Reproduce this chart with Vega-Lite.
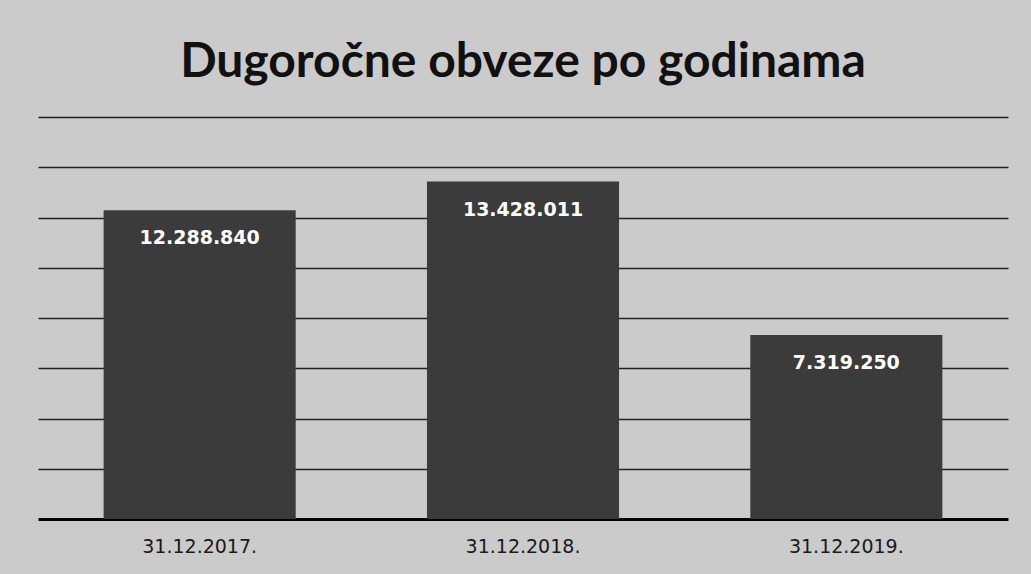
{
  "$schema": "https://vega.github.io/schema/vega-lite/v6.json",
  "width": 970,
  "height": 402,
  "autosize": {"type": "none"},
  "padding": {"left": 38, "top": 117, "right": 23, "bottom": 55},
  "background": "#cbcbcb",
  "config": {
    "view": {"stroke": null},
    "locale": {"number": {"decimal": ",", "thousands": ".", "grouping": [3], "currency": ["", " kn"]}}
  },
  "title": {
    "text": "Dugoročne obveze po godinama",
    "font": "Lato",
    "fontSize": 48,
    "fontWeight": "bold",
    "color": "#111111",
    "anchor": "middle",
    "offset": 30
  },
  "data": {
    "values": [
      {"datum": "31.12.2017.", "iznos": 12288840},
      {"datum": "31.12.2018.", "iznos": 13428011},
      {"datum": "31.12.2019.", "iznos": 7319250}
    ]
  },
  "encoding": {
    "x": {
      "field": "datum",
      "type": "nominal",
      "sort": null,
      "scale": {"paddingInner": 0.406, "paddingOuter": 0.203},
      "axis": {
        "title": null,
        "labelAngle": 0,
        "labelFont": "DejaVu Sans",
        "labelFontSize": 19,
        "labelColor": "#1a1a1a",
        "labelPadding": 18,
        "ticks": false,
        "domainColor": "#000000",
        "domainWidth": 3
      }
    },
    "y": {
      "field": "iznos",
      "type": "quantitative",
      "scale": {"domain": [0, 16000000], "nice": false},
      "axis": {
        "title": null,
        "labels": false,
        "ticks": false,
        "domain": false,
        "values": [2000000, 4000000, 6000000, 8000000, 10000000, 12000000, 14000000, 16000000],
        "gridColor": "#222222",
        "gridWidth": 1.5
      }
    }
  },
  "layer": [
    {"mark": {"type": "bar", "color": "#3b3b3b"}},
    {
      "mark": {
        "type": "text",
        "font": "DejaVu Sans",
        "fontSize": 19,
        "fontWeight": "bold",
        "color": "#ffffff",
        "baseline": "middle",
        "dy": 28
      },
      "encoding": {
        "text": {"field": "iznos", "type": "quantitative", "format": ",d"}
      }
    }
  ]
}
